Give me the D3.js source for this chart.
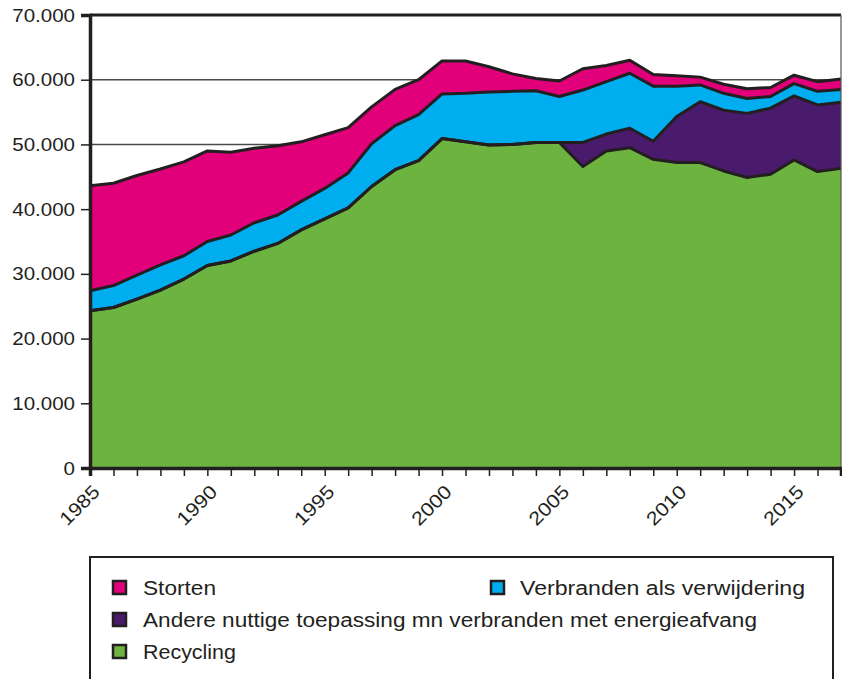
<!DOCTYPE html>
<html>
<head>
<meta charset="utf-8">
<script src="https://cdn.jsdelivr.net/npm/d3@7"></script>
<style>
  html, body { margin: 0; padding: 0; background: #fff; }
  svg { display: block; font-family: "Liberation Sans", Arial, Helvetica, sans-serif; }
</style>
</head>
<body>
<svg id="chart" width="842" height="679"></svg>
<script>
// ---- data (kton) ----
const years = [1985,1986,1987,1988,1989,1990,1991,1992,1993,1994,1995,1996,1997,1998,1999,2000,
  2001,2002,2003,2004,2005,2006,2007,2008,2009,2010,2011,2012,2013,2014,2015,2016,2017];
const recycling = [24300,24800,26100,27500,29200,31300,32000,33500,34700,36800,38500,40200,43500,46100,47500,50900,
  50400,49900,50000,50300,50300,46600,49000,49500,47700,47200,47200,45900,44900,45400,47600,45800,46300];
const andere = [0,0,0,0,0,0,0,0,0,0,0,0,0,0,0,0,
  0,0,0,0,0,3700,2600,3000,2800,7100,9400,9400,9900,10200,9900,10300,10200];
const verbranden = [3100,3400,3700,3900,3600,3700,4000,4400,4400,4400,4700,5400,6600,6800,7100,6900,
  7500,8200,8200,8000,7100,8100,8100,8500,8500,4700,2600,2600,2300,1800,1900,2100,2000];
const storten = [16200,15800,15400,14800,14500,14000,12800,11500,10700,9200,8300,7000,5700,5600,5400,5100,
  5000,3900,2700,1900,2400,3300,2500,2000,1800,1600,1200,1400,1500,1400,1300,1500,1600];
const yTicks = [0,10000,20000,30000,40000,50000,60000,70000];
const xLabelYears = [1985,1990,1995,2000,2005,2010,2015];
const seriesNames = ["Recycling","Andere nuttige toepassing mn verbranden met energieafvang","Verbranden als verwijdering","Storten"];
const seriesColors = ["#6cb33f","#4a1a6c","#00aeef","#e2007a"];

// ---- layout ----
const svg = d3.select("#chart");
const ink = "#231f20";
const x = d3.scaleLinear().domain([1985, 2017]).range([90, 841]);
const y = d3.scaleLinear().domain([0, 70000]).range([468, 15]);
const nl = d3.formatLocale({decimal: ",", thousands: ".", grouping: [3], currency: ["", ""]});
const fmt = nl.format(",");

const table = years.map((yr, i) => ({
  year: yr, Recycling: recycling[i],
  "Andere nuttige toepassing mn verbranden met energieafvang": andere[i],
  "Verbranden als verwijdering": verbranden[i], Storten: storten[i]
}));
const stacked = d3.stack().keys(seriesNames)(table);

// gridlines
svg.append("g").selectAll("line").data(yTicks.filter(t => t > 0 && t < 70000)).join("line")
  .attr("x1", x(1985)).attr("x2", x(2017)).attr("y1", d => y(d)).attr("y2", d => y(d))
  .attr("stroke", "#4a4a4a").attr("stroke-width", 1.5);

// areas
const area = d3.area().x(d => x(d.data.year)).y0(d => y(d[0])).y1(d => y(d[1]));
svg.append("g").selectAll("path").data(stacked).join("path")
  .attr("d", area).attr("fill", (d, i) => seriesColors[i]);

// boundary lines
const line = d3.line().x(d => x(d.data.year)).y(d => y(d[1]));
svg.append("g").selectAll("path").data(stacked).join("path")
  .attr("d", line).attr("fill", "none").attr("stroke", ink)
  .attr("stroke-width", 3).attr("stroke-linejoin", "round");

// frame: top thick line, right thin line
svg.append("line").attr("x1", x(1985)).attr("x2", x(2017)).attr("y1", y(70000)).attr("y2", y(70000))
  .attr("stroke", ink).attr("stroke-width", 3);
svg.append("line").attr("x1", x(2017)).attr("x2", x(2017)).attr("y1", y(70000)).attr("y2", y(0))
  .attr("stroke", "#555").attr("stroke-width", 1.2);

// y axis
const yAxis = d3.axisLeft(y).tickValues(yTicks).tickSize(9).tickPadding(6).tickFormat(fmt);
const gy = svg.append("g").attr("transform", `translate(${x(1985)},0)`).call(yAxis);
gy.select(".domain").attr("stroke", ink).attr("stroke-width", 3.5);
gy.selectAll(".tick line").attr("stroke", ink).attr("stroke-width", 1.5);
gy.selectAll(".tick text").attr("font-size", 19).attr("fill", ink)
  .attr("font-family", "'Liberation Sans', Arial, sans-serif")
  .each(function () { const w = this.getComputedTextLength(); this.setAttribute("textLength", w * 1.08); this.setAttribute("lengthAdjust", "spacingAndGlyphs"); });

// x axis
const xAxis = d3.axisBottom(x).tickValues(years.slice(0, -1)).tickSize(8).tickFormat("");
const gx = svg.append("g").attr("transform", `translate(0,${y(0)})`).call(xAxis);
gx.select(".domain").attr("stroke", ink).attr("stroke-width", 3.5);
gx.selectAll(".tick line").attr("stroke", ink).attr("stroke-width", 1.5);
svg.append("g").selectAll("text").data(xLabelYears).join("text")
  .attr("transform", d => `translate(${x(d) + 11},${y(0) + 25}) rotate(-45)`)
  .attr("text-anchor", "end").attr("font-size", 19).attr("fill", ink)
  .text(d => d)
  .each(function () { const w = this.getComputedTextLength(); this.setAttribute("textLength", w * 1.13); this.setAttribute("lengthAdjust", "spacingAndGlyphs"); });

// legend
svg.append("rect").attr("x", 90).attr("y", 557).attr("width", 743).attr("height", 160)
  .attr("fill", "none").attr("stroke", ink).attr("stroke-width", 2);
const legendItems = [
  {name: "Storten", color: seriesColors[3], sx: 113, tx: 143, base: 595, w: 73},
  {name: "Verbranden als verwijdering", color: seriesColors[2], sx: 491, tx: 520, base: 595, w: 285},
  {name: "Andere nuttige toepassing mn verbranden met energieafvang", color: seriesColors[1], sx: 113, tx: 143, base: 627, w: 614},
  {name: "Recycling", color: seriesColors[0], sx: 113, tx: 143, base: 659, w: 93}
];
const lg = svg.append("g").selectAll("g").data(legendItems).join("g");
lg.append("rect").attr("x", d => d.sx).attr("y", d => d.base - 14).attr("width", 13).attr("height", 13)
  .attr("fill", d => d.color).attr("stroke", ink).attr("stroke-width", 2.5);
lg.append("text").attr("x", d => d.tx).attr("y", d => d.base).attr("font-size", 19.5).attr("fill", ink)
  .attr("textLength", d => d.w).attr("lengthAdjust", "spacingAndGlyphs").text(d => d.name);
</script>
</body>
</html>
